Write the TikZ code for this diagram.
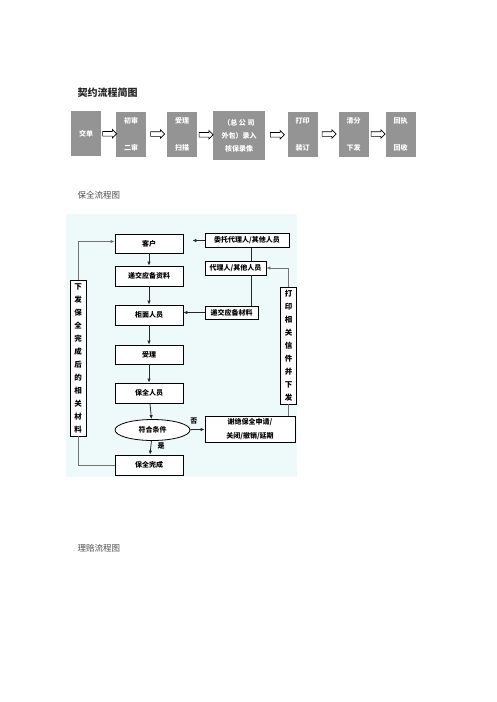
\documentclass[tikz,border=0pt]{standalone}
\usepackage{fontspec}
\newfontfamily\cjk{Noto Sans CJK SC}
\usetikzlibrary{shapes,calc,arrows.meta}

\definecolor{paleblue}{RGB}{238,250,250}

\begin{document}
\begin{tikzpicture} [x=1pt, y=-1pt,
				stage/.style={
				% The shape:
				rectangle,
				% The size:
      				minimum width=30, minimum height=45, inner sep=0,
				% The filling:
				fill=black!42, text=white,
				% Font
				align=center, font=\cjk\bfseries\fontsize{7}{27}\selectfont
    				},
				hollow/.style={
				% The shape:
				single arrow, single arrow head extend=2pt,
				% The size:
      				minimum height=14pt, inner xsep=0pt, inner ysep=2pt,
				% The border:
      				line width=0.6pt, draw=black,
      				% The filling:
				fill=white
    				},
				stepbox/.style={
				% The shape:
				rectangle,
				% The size:
      				minimum width=68, minimum height=20, inner sep=0,
				% The border:
      				line width=0.8pt, draw=black,
      				% The filling:
				fill=white,
				% Font
				align=center, font=\cjk\bfseries\fontsize{7}{14}\selectfont
    				},
				sidebox/.style={
				% The shape:
				rectangle,
				% The size:
      				minimum width=16, inner sep=0,
				% The border:
      				line width=0.8pt, draw=black,
      				% The filling:
				fill=white,
				% Font
				align=center, font=\cjk\bfseries\fontsize{7.5}{13}\selectfont
    				},
				flow/.style={line width=0.8pt, draw=black!85, -{Latex[length=4pt,width=3.5pt]}},
				loop/.style={line width=1pt, draw=black!55},
				]
    \tikzstyle{every node} = [font=\cjk]
    \useasboundingbox (0,0) rectangle (496,702);

    % contract flow
    \node [anchor=west, font=\cjk\bfseries\fontsize{10}{12}\selectfont, text=black!85] (title1) at (74,93) {契约流程简图};
    \node [stage] (jiaodan) at (86,133.5) {交单};
    \node [stage] (chushen) at (131,134) {初审\\二审};
    \node [stage] (shouli1) at (182,134) {受理\\扫描};
    \node [stage, minimum width=52, minimum height=49, font=\cjk\bfseries\fontsize{7}{13}\selectfont] (luru) at (239,135.5) {（总 公 司\\外包）录入\\核保录像};
    \node [stage] (dayin1) at (302.5,134) {打印\\装订};
    \node [stage] (qingfen) at (353.5,134) {清分\\下发};
    \node [stage] (huizhi) at (400.5,134) {回执\\回收};
    \node [hollow] (a1) at ($(jiaodan.east)!0.5!(chushen.west)$) {};
    \node [hollow] (a2) at ($(chushen.east)!0.5!(shouli1.west)$) {};
    \node [hollow] (a3) at ($(shouli1.east)!0.5!(luru.west)$) {};
    \node [hollow] (a4) at ($(luru.east)!0.5!(dayin1.west)$) {};
    \node [hollow] (a5) at ($(dayin1.east)!0.5!(qingfen.west)$) {};
    \node [hollow] (a6) at ($(qingfen.east)!0.5!(huizhi.west)$) {};

    % preservation flow
    \node [anchor=west, font=\cjk\fontsize{8.5}{10}\selectfont, text=black!70] (title2) at (74,195) {保全流程图};
    \fill [paleblue] (66,214) rectangle (297,477);
    \node [stepbox, minimum height=19] (kehu) at (149,243.5) {客户};
    \node [stepbox] (ziliao) at (149,276) {递交应备资料};
    \node [stepbox] (guimian) at (149,315) {柜面人员};
    \node [stepbox, minimum height=19] (shouli) at (149,354.5) {受理};
    \node [stepbox] (renyuan) at (149,393) {保全人员};
    \node [ellipse, draw=black, line width=0.8pt, fill=white, minimum width=75, minimum height=21, inner sep=0,
           font=\cjk\bfseries\fontsize{7}{9}\selectfont] (fuhe) at (152.5,430) {符合条件};
    \node [stepbox] (wancheng) at (149,465) {保全完成};
    \node [stepbox, minimum width=84, minimum height=14] (weituo) at (247,240.5) {委托代理人/其他人员};
    \node [stepbox, minimum width=61, minimum height=14] (daili) at (235.5,268) {代理人/其他人员};
    \node [stepbox, minimum width=53, minimum height=13] (cailiao) at (231.5,312.5) {递交应备材料};
    \node [stepbox, minimum width=90, minimum height=26] (jujue) at (250,429) {谢绝保全申请/\\关闭/撤销/延期};
    \node [sidebox, minimum height=117] (dayin) at (288.5,345.5)
          {打\\印\\相\\关\\信\\件\\并\\下\\发};
    \node [sidebox, minimum height=156] (xiafa) at (78,358)
          {下\\发\\保\\全\\完\\成\\后\\的\\相\\关\\材\\料};
    \coordinate (vline) at (251,0);

    \draw [flow] (kehu) -- (ziliao);
    \draw [flow] (ziliao) -- (guimian);
    \draw [flow] (guimian) -- (shouli);
    \draw [flow] (shouli) -- (renyuan);
    \draw [flow] (renyuan) -- (fuhe);
    \draw [flow] (fuhe) -- node [right, pos=0.35, xshift=3pt, font=\cjk\bfseries\fontsize{7}{9}\selectfont] {是} (wancheng);
    \draw [flow] (fuhe) -- node [above, pos=0.25, yshift=2pt, font=\cjk\bfseries\fontsize{7}{9}\selectfont] {否} (jujue);
    \draw [flow, shorten >=9pt] (weituo) -- (kehu.east |- weituo);
    \draw [flow] (cailiao) -- (guimian.east |- cailiao);
    \draw [line width=0.8pt, draw=black!85] (weituo.south -| vline) -- (daili.north -| vline);
    \draw [line width=0.8pt, draw=black!85] (daili.south -| vline) -- (cailiao.north -| vline);
    \draw [loop, -{Latex[length=4pt,width=3.5pt]}] (dayin.north) |- (daili.east);
    \draw [loop] (dayin.south) -- (jujue.north -| dayin.south);
    \draw [loop, -{Latex[length=4pt,width=3.5pt]}] (xiafa.north) |- ([yshift=2pt]kehu.west);
    \draw [loop] (xiafa.south) |- (wancheng.west);

    % claims flow
    \node [anchor=west, font=\cjk\fontsize{8.5}{10}\selectfont, text=black!70] (title3) at (74,548) {理赔流程图};
\end{tikzpicture}
\end{document}
